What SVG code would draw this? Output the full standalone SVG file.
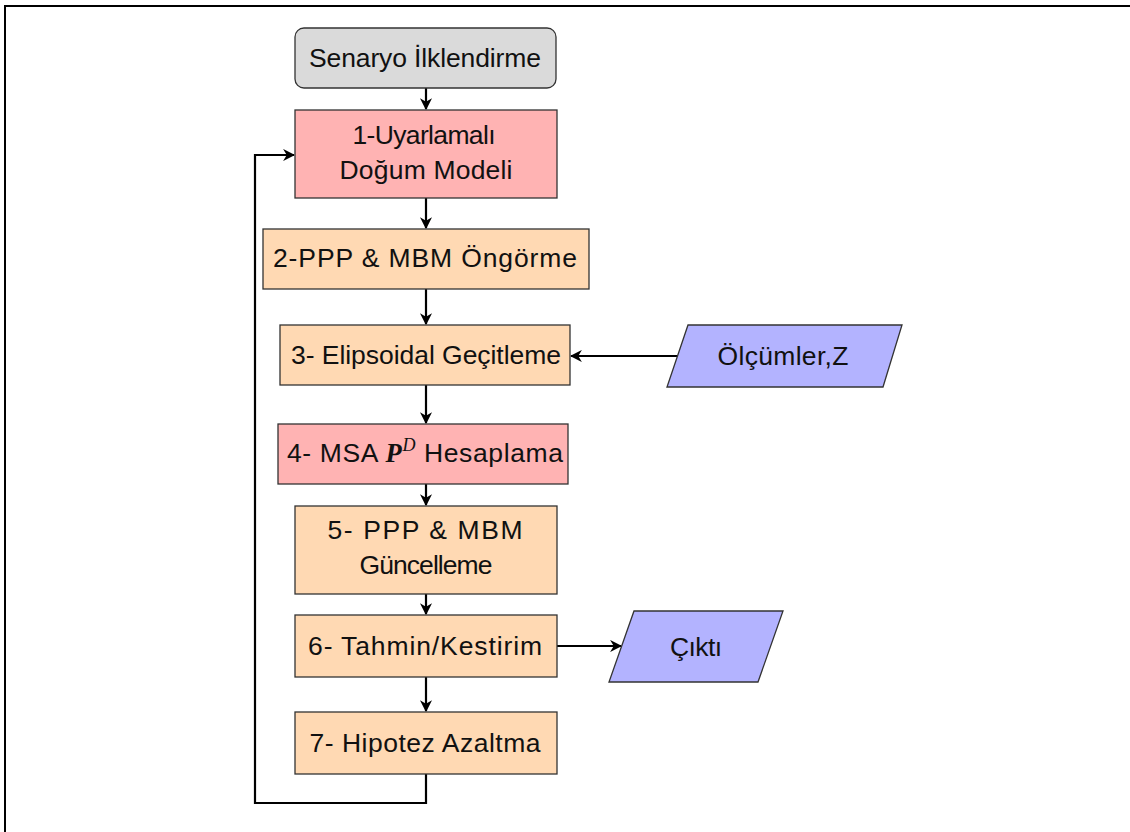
<svg xmlns="http://www.w3.org/2000/svg" width="1130" height="832" viewBox="0 0 1130 832">
<defs>
<style>
.box{stroke:#333;stroke-width:1.3}
.gray{fill:#dadada}
.pink{fill:#ffb3b3}
.peach{fill:#ffd9b3}
.blue{fill:#b3b3ff}
.t{font-family:"Liberation Sans",Arial,sans-serif;font-size:26.5px;fill:#111;text-anchor:middle}
.e{fill:none;stroke:#000;stroke-width:2.2}
</style>
<marker id="ah" viewBox="0 0 10 10" refX="9" refY="5" markerWidth="5.5" markerHeight="5.5" markerUnits="strokeWidth" orient="auto">
<path d="M0,0 L10,5 L0,10 L3,5 Z" fill="#000"/>
</marker>
</defs>
<rect width="1130" height="832" fill="#fff"/>
<path d="M5,832 V6 H1130" fill="none" stroke="#000" stroke-width="2"/>

<g id="connectors">
<path class="e" d="M426,88 V109" marker-end="url(#ah)"/>
<path class="e" d="M426,198 V228" marker-end="url(#ah)"/>
<path class="e" d="M426,289 V324" marker-end="url(#ah)"/>
<path class="e" d="M678,356 H571" marker-end="url(#ah)"/>
<path class="e" d="M426,385 V423" marker-end="url(#ah)"/>
<path class="e" d="M426,484 V505" marker-end="url(#ah)"/>
<path class="e" d="M426,594 V614" marker-end="url(#ah)"/>
<path class="e" d="M557,646 H621" marker-end="url(#ah)"/>
<path class="e" d="M426,677 V711" marker-end="url(#ah)"/>
<path class="e" d="M426,774 V803 H255 V155 H294" marker-end="url(#ah)"/>
</g>

<g id="n0">
<rect class="box gray" x="295" y="28" width="261" height="60" rx="9"/>
<text class="t" x="425" y="67" textLength="232" lengthAdjust="spacing">Senaryo İlklendirme</text>
</g>
<g id="n1">
<rect class="box pink" x="295" y="110" width="262" height="88"/>
<text class="t" x="424" y="144" textLength="143" lengthAdjust="spacing">1-Uyarlamalı</text>
<text class="t" x="426" y="179" textLength="173" lengthAdjust="spacing">Doğum Modeli</text>
</g>
<g id="n2">
<rect class="box peach" x="263" y="229" width="326" height="60"/>
<text class="t" x="425" y="267" textLength="304" lengthAdjust="spacing">2-PPP &amp; MBM Öngörme</text>
</g>
<g id="n3">
<rect class="box peach" x="280" y="325" width="290" height="60"/>
<text class="t" x="426" y="364" textLength="270" lengthAdjust="spacing">3- Elipsoidal Geçitleme</text>
</g>
<g id="n3in">
<polygon class="box blue" points="688,325 902,325 883,387 667,387"/>
<text class="t" x="783" y="365" textLength="131" lengthAdjust="spacing">Ölçümler,Z</text>
</g>
<g id="n4">
<rect class="box pink" x="278" y="424" width="290" height="60"/>
<text class="t" x="425" y="462" textLength="276" lengthAdjust="spacing">4- MSA <tspan font-family="Liberation Serif" font-style="italic" font-weight="bold">P</tspan><tspan font-family="Liberation Serif" font-style="italic" font-size="18" dy="-11">D</tspan><tspan dy="11"> Hesaplama</tspan></text>
</g>
<g id="n5">
<rect class="box peach" x="295" y="506" width="262" height="88"/>
<text class="t" x="425" y="539" textLength="195" lengthAdjust="spacing">5- PPP &amp; MBM</text>
<text class="t" x="426" y="574" textLength="133" lengthAdjust="spacing">Güncelleme</text>
</g>
<g id="n6">
<rect class="box peach" x="295" y="615" width="262" height="62"/>
<text class="t" x="425" y="655" textLength="234" lengthAdjust="spacing">6- Tahmin/Kestirim</text>
</g>
<g id="n6out">
<polygon class="box blue" points="634,611 783,611 758,682 609,682"/>
<text class="t" x="696" y="656" textLength="52" lengthAdjust="spacing">Çıktı</text>
</g>
<g id="n7">
<rect class="box peach" x="295" y="712" width="262" height="62"/>
<text class="t" x="425" y="752" textLength="231" lengthAdjust="spacing">7- Hipotez Azaltma</text>
</g>
</svg>
